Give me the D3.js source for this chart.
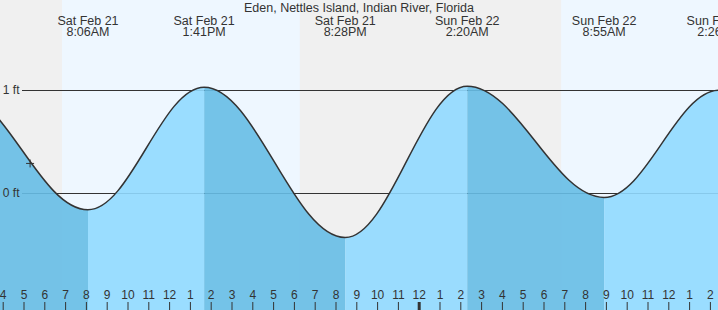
<!DOCTYPE html>
<html>
<head>
<meta charset="utf-8">
<script src="https://cdn.jsdelivr.net/npm/d3@7"></script>
<style>
  html, body { margin: 0; padding: 0; background: #fff; }
  svg { display: block; font-family: "Liberation Sans", Arial, sans-serif; }
</style>
</head>
<body>
<svg id="chart" width="718" height="310"></svg>
<script>
// ---- data ----
const title = "Eden, Nettles Island, Indian River, Florida";
// tide extremes (local time) and heights in ft
const tideTimes = ["2026-02-21T01:45", "2026-02-21T08:06", "2026-02-21T13:41", "2026-02-21T20:28",
                   "2026-02-22T02:20", "2026-02-22T08:55", "2026-02-22T14:26", "2026-02-22T21:00"];
const tideHeights = [1.0, -0.16, 1.03, -0.43, 1.04, -0.04, 1.0, -0.35];
const labelledExtremes = [1, 2, 3, 4, 5, 6]; // indices shown in the header
// daylight
const sunrises = ["2026-02-21T06:51", "2026-02-22T06:51"];
const sunsets  = ["2026-02-21T18:17", "2026-02-22T18:18"];
// y axis ticks (ft)
const yTicks = [0, 1];
const yTickLabels = ["0 ft", "1 ft"];
// current time marker
const nowTime = "2026-02-21T05:19";
const nowHeight = 0.29;

// ---- setup ----
const W = 718, H = 310;
const svg = d3.select("#chart");
const parse = s => { const [d, t] = s.split("T"); const [Y, M, D] = d.split("-").map(Number); const [h, m] = t.split(":").map(Number); return new Date(Y, M - 1, D, h, m); };
const tides = tideTimes.map((t, i) => ({ t: parse(t), h: tideHeights[i] }));

const x = d3.scaleTime()
  .domain([parse("2026-02-21T04:00"), parse("2026-02-22T14:00")])
  .range([2.7, 709.9]);
const y = d3.scaleLinear().domain([0, 1]).range([193.3, 90.3]);

const COL = { night: "#f0f0f0", day: "#eef7ff", light: "#90d9ff", dark: "#66bde5", ink: "#333" };

// custom curve: half-cosine-like cubic segments with flat tangents at extremes
function cosineCurve(context) {
  const k = 0.364;
  let x0, y0, state = 0, lineFlag = NaN;
  return {
    areaStart() { lineFlag = 0; },
    areaEnd() { lineFlag = NaN; },
    lineStart() { state = 0; },
    lineEnd() { if (lineFlag || (lineFlag !== 0 && state === 1)) context.closePath(); lineFlag = 1 - lineFlag; },
    point(px, py) {
      px = +px; py = +py;
      if (state === 0) {
        state = 1;
        lineFlag ? context.lineTo(px, py) : context.moveTo(px, py);
      } else {
        state = 2;
        const dx = px - x0;
        if (Math.abs(dx) < 1e-9) context.lineTo(px, py);
        else context.bezierCurveTo(x0 + k * dx, y0, px - k * dx, py, px, py);
      }
      x0 = px; y0 = py;
    }
  };
}

// ---- background: night / day ----
svg.append("rect").attr("x", 0).attr("y", 0).attr("width", W).attr("height", H).attr("fill", COL.night);
sunrises.forEach((sr, i) => {
  const x0 = Math.max(0, x(parse(sr)));
  const x1 = Math.min(W, x(parse(sunsets[i])));
  if (x1 > x0) svg.append("rect").attr("x", x0).attr("y", 0).attr("width", x1 - x0).attr("height", H).attr("fill", COL.day);
});

// ---- horizontal reference lines ----
yTicks.forEach(v => {
  svg.append("line").attr("x1", 22).attr("x2", W).attr("y1", y(v)).attr("y2", y(v))
    .attr("stroke", COL.ink).attr("stroke-width", 1).attr("shape-rendering", "crispEdges");
});

// ---- water ----
const area = d3.area().x(d => x(d.t)).y0(H).y1(d => y(d.h)).curve(cosineCurve);
const defs = svg.append("defs");
for (let i = 0; i < tides.length - 1; i++) {
  const a = x(tides[i].t), b = x(tides[i + 1].t);
  const falling = tides[i + 1].h < tides[i].h;
  defs.append("clipPath").attr("id", "seg" + i)
    .append("rect").attr("x", a).attr("y", 0).attr("width", b - a).attr("height", H);
  svg.append("path").datum(tides).attr("d", area)
    .attr("clip-path", `url(#seg${i})`)
    .attr("fill", falling ? COL.dark : COL.light).attr("fill-opacity", 0.9);
}
const line = d3.line().x(d => x(d.t)).y(d => y(d.h)).curve(cosineCurve);
svg.append("path").datum(tides).attr("d", line)
  .attr("fill", "none").attr("stroke", COL.ink).attr("stroke-width", 1.5);

// ---- y labels ----
yTicks.forEach((v, i) => {
  svg.append("text").attr("x", 19.5).attr("y", y(v) + 4).attr("text-anchor", "end")
    .attr("font-size", 12).attr("fill", COL.ink).text(yTickLabels[i]);
});

// ---- now marker ----
const nx = x(parse(nowTime)), ny = y(nowHeight);
svg.append("path").attr("d", `M${nx - 4},${ny}H${nx + 4}M${nx},${ny - 4}V${ny + 4}`)
  .attr("stroke", COL.ink).attr("stroke-width", 1);

// ---- header ----
svg.append("text").attr("x", 359).attr("y", 12).attr("text-anchor", "middle")
  .attr("font-size", 12.5).attr("fill", COL.ink).text(title);
const fDate = d3.timeFormat("%a %b %-d");
const fTime = d3.timeFormat("%-I:%M%p");
labelledExtremes.forEach(i => {
  const g = svg.append("g").attr("transform", `translate(${x(tides[i].t)},0)`)
    .attr("text-anchor", "middle").attr("font-size", 12.5).attr("fill", COL.ink);
  g.append("text").attr("y", 24.5).text(fDate(tides[i].t));
  g.append("text").attr("y", 36).text(fTime(tides[i].t));
});

// ---- hour axis ----
const axis = d3.axisTop(x)
  .ticks(d3.timeHour.every(1))
  .tickSize(8).tickPadding(3)
  .tickFormat(d3.timeFormat("%-I"));
const ax = svg.append("g").attr("transform", `translate(0,${H})`).call(axis);
ax.select(".domain").remove();
ax.selectAll("text").attr("font-size", 12).attr("fill", COL.ink)
  .attr("font-family", "Liberation Sans, Arial, sans-serif");
ax.selectAll("line").attr("stroke", COL.ink);
ax.selectAll(".tick").filter(d => d.getHours() === 0).select("line").attr("stroke-width", 3);
</script>
</body>
</html>
